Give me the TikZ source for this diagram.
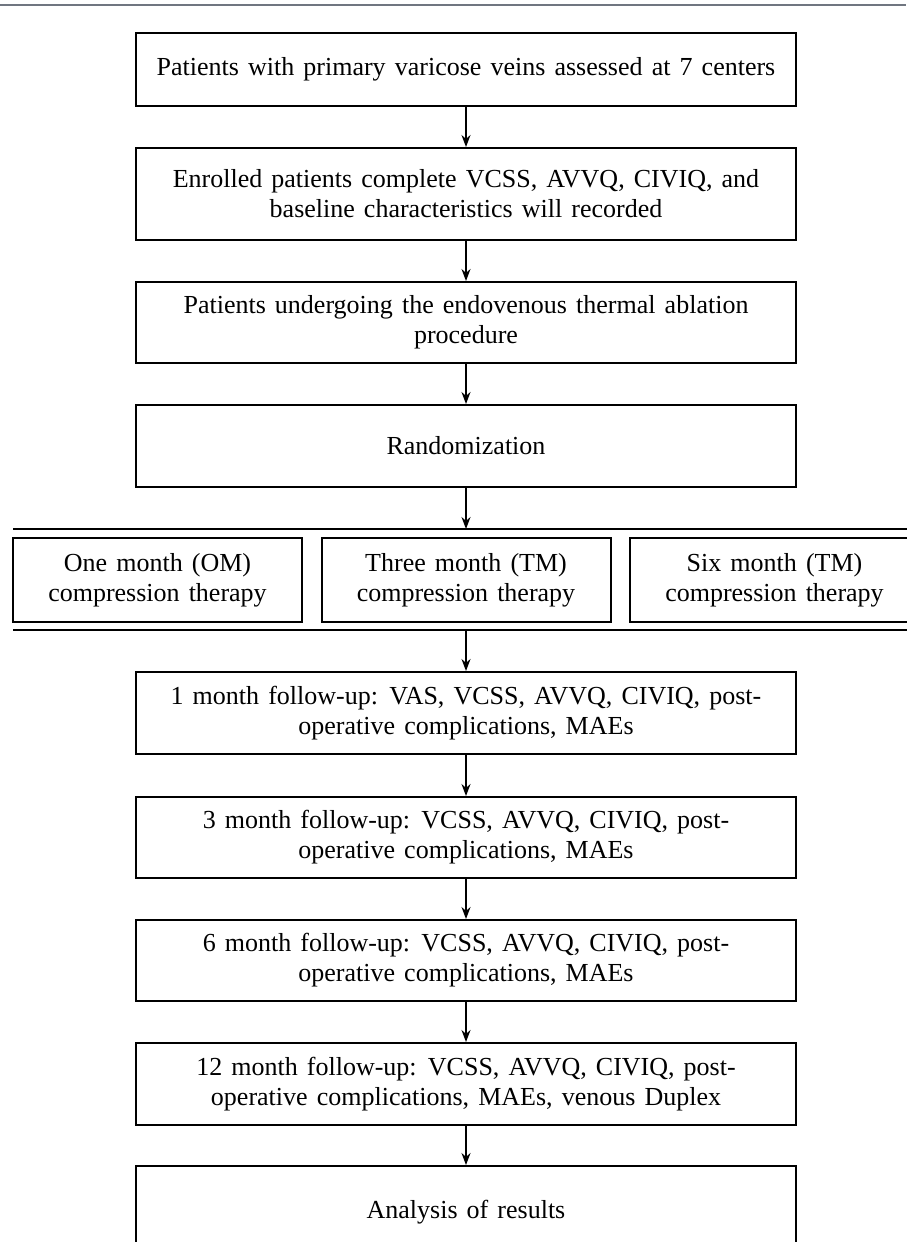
\documentclass[tikz,border=0pt]{standalone}
\usepackage{fontspec}
\setmainfont{Liberation Serif}[WordSpace=1.4]
\usepackage{xcolor}
\usetikzlibrary{
    arrows.meta,
    positioning
}
\definecolor{rulegray}{RGB}{112,118,128}

\begin{document}
\begin{tikzpicture}[x=1pt, y=-1pt,
    box/.style={draw, line width=2pt, align=center, minimum width=660pt,
        inner sep=0pt, font=\fontsize{26}{30}\selectfont},
    armbox/.style={draw, line width=2pt, align=center, minimum width=289pt,
        minimum height=84pt, inner sep=0pt, font=\fontsize{26}{30}\selectfont},
    flow/.style={-{Stealth[length=12pt, width=9pt]}, line width=1.4pt},
    split/.style={line width=2.4pt}]
    % Page frame
    \useasboundingbox (0,0) rectangle (906,1242);
    \fill[white] (0,0) rectangle (906,1242);
    \draw[rulegray, line width=2pt] (0,5) -- (906,5);

    % Enrolment and procedure
    \node[box, minimum height=73pt] (screen) at (466,69.5)
        {Patients with primary varicose veins assessed at 7 centers};
    \node[box, minimum height=92pt] (enrol) at (466,194)
        {Enrolled patients complete VCSS, AVVQ, CIVIQ, and\\
        baseline characteristics will recorded};
    \node[box, minimum height=81pt] (ablate) at (466,322.5)
        {Patients undergoing the endovenous thermal ablation\\
        procedure};
    \node[box, minimum height=82pt] (rand) at (466,446) {Randomization};

    % Split into the three arms
    \coordinate (splitL) at (13,529);
    \coordinate (splitR) at (920,529);
    \coordinate (splitC) at (466,529);
    \coordinate (joinL) at (13,630);
    \coordinate (joinR) at (920,630);
    \coordinate (joinC) at (466,630);
    \draw[split] (splitL) -- (splitR);
    \draw[split] (joinL) -- (joinR);

    \node[armbox] (armOM) at (157.5,580) {One month (OM)\\ compression therapy};
    \node[armbox] (armTM) at (466,580) {Three month (TM)\\ compression therapy};
    \node[armbox] (armSM) at (774.5,580) {Six month (TM)\\ compression therapy};

    % Follow-up visits
    \node[box, minimum height=82pt] (fu1) at (466,713)
        {1 month follow-up: VAS, VCSS, AVVQ, CIVIQ, post-\\
        operative complications, MAEs};
    \node[box, minimum height=81pt] (fu3) at (466,837.5)
        {3 month follow-up: VCSS, AVVQ, CIVIQ, post-\\
        operative complications, MAEs};
    \node[box, minimum height=81pt] (fu6) at (466,960.5)
        {6 month follow-up: VCSS, AVVQ, CIVIQ, post-\\
        operative complications, MAEs};
    \node[box, minimum height=82pt] (fu12) at (466,1084)
        {12 month follow-up: VCSS, AVVQ, CIVIQ, post-\\
        operative complications, MAEs, venous Duplex};
    \node[box, minimum height=92pt] (result) at (466,1212) {Analysis of results};

    % Arrows
    \draw[flow] (screen) -- (enrol);
    \draw[flow] (enrol) -- (ablate);
    \draw[flow] (ablate) -- (rand);
    \draw[flow] (rand) -- (splitC);
    \draw[flow] (joinC) -- (fu1);
    \draw[flow] (fu1) -- (fu3);
    \draw[flow] (fu3) -- (fu6);
    \draw[flow] (fu6) -- (fu12);
    \draw[flow] (fu12) -- (result);
\end{tikzpicture}
\end{document}
